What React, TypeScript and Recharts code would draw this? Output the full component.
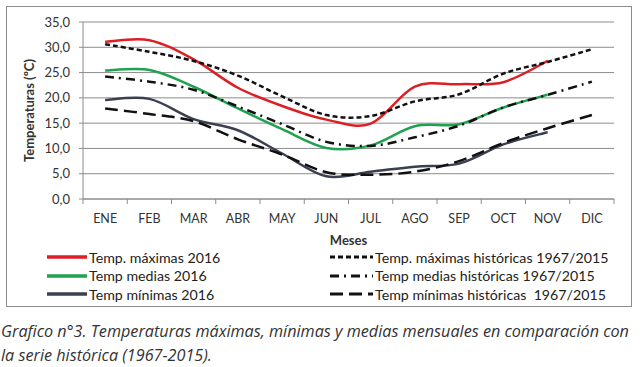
import { LineChart, Line, XAxis, YAxis, CartesianGrid } from 'recharts'

const months = ['ENE', 'FEB', 'MAR', 'ABR', 'MAY', 'JUN', 'JUL', 'AGO', 'SEP', 'OCT', 'NOV', 'DIC']
const max2016 = [31.1, 31.4, 27.6, 22.0, 18.4, 15.7, 14.9, 22.2, 22.7, 23.1, 27.3, null]
const med2016 = [25.4, 25.5, 22.2, 17.9, 13.8, 10.1, 10.6, 14.4, 14.8, 18.1, 20.6, null]
const min2016 = [19.6, 19.8, 15.8, 13.6, 9.0, 4.5, 5.4, 6.4, 7.0, 10.8, 13.2, null]
const maxHist = [30.6, 29.1, 27.3, 24.4, 20.3, 16.6, 16.4, 19.3, 20.7, 24.8, 27.1, 29.6]
const medHist = [24.2, 23.2, 21.6, 18.3, 14.8, 11.3, 10.5, 12.2, 14.5, 18.1, 20.6, 23.2]
const minHist = [17.9, 16.8, 15.4, 11.8, 8.8, 5.3, 4.8, 5.4, 7.5, 11.1, 14.0, 16.6]
const yTicks = [0, 5, 10, 15, 20, 25, 30, 35]

const data = months.map((mes, i) => ({
  mes,
  max2016: max2016[i],
  med2016: med2016[i],
  min2016: min2016[i],
  maxHist: maxHist[i],
  medHist: medHist[i],
  minHist: minHist[i],
}))

const series = [
  { key: 'max2016', name: 'Temp. máximas 2016', color: '#dc1f26', dash: undefined },
  { key: 'med2016', name: 'Temp medias 2016', color: '#1fa24f', dash: undefined },
  { key: 'min2016', name: 'Temp mínimas 2016', color: '#3a3f52', dash: undefined },
  { key: 'maxHist', name: 'Temp. máximas históricas 1967/2015', color: '#111', dash: '5 3' },
  { key: 'medHist', name: 'Temp medias históricas 1967/2015', color: '#111', dash: '9 5 2 5' },
  { key: 'minHist', name: 'Temp mínimas históricas  1967/2015', color: '#111', dash: '13 6' },
]

const GRID = '#8c8c8c'
const FONT = 'Lato, "Open Sans", sans-serif'
const TICK_OFF = 15

// Excel "linea suavizada": catmull-rom uniforme (control = vecino/6)
function excelSmooth(context: any) {
  let pts: number[][] = []
  return {
    areaStart() {},
    areaEnd() {},
    lineStart() { pts = [] },
    point(x: number, y: number) { pts.push([+x, +y]) },
    lineEnd() {
      const n = pts.length
      if (!n) return
      context.moveTo(pts[0][0], pts[0][1])
      for (let i = 0; i < n - 1; i++) {
        const p0 = pts[i - 1] || pts[i]
        const p1 = pts[i]
        const p2 = pts[i + 1]
        const p3 = pts[i + 2] || p2
        context.bezierCurveTo(
          p1[0] + (p2[0] - p0[0]) / 6, p1[1] + (p2[1] - p0[1]) / 6,
          p2[0] - (p3[0] - p1[0]) / 6, p2[1] - (p3[1] - p1[1]) / 6,
          p2[0], p2[1],
        )
      }
    },
  }
}

// etiqueta de mes + marcas entre categorías (como Excel)
function MonthTick({ x, y, payload, index, width, visibleTicksCount }: any) {
  const half = width / visibleTicksCount / 2
  const top = y - TICK_OFF
  return (
    <g>
      {index === 0 && <line x1={x - half} x2={x - half} y1={top} y2={top + 5} stroke={GRID} />}
      <line x1={x + half} x2={x + half} y1={top} y2={top + 5} stroke={GRID} />
      <text x={x} y={y} dy="0.71em" textAnchor="middle" fill="#333" fontSize={12.5}>{payload.value}</text>
    </g>
  )
}

function LegendItem({ s, x, y, w }: { s: typeof series[number]; x: number; y: number; w: number }) {
  return (
    <div style={{ position: 'absolute', left: x, top: y - 9, height: 18, display: 'flex', alignItems: 'center', whiteSpace: 'pre' }}>
      <svg width={w} height={6} style={{ marginRight: 2 }}>
        <line x1={0} y1={3} x2={w} y2={3} stroke={s.color} strokeWidth={s.dash ? 3 : 3.5} strokeDasharray={s.dash} />
      </svg>
      <span style={{ fontSize: 14.2, color: '#222' }}>{s.name}</span>
    </div>
  )
}

export default function App() {
  return (
    <div style={{ position: 'absolute', left: 0, top: 0, width: 640, height: 367, background: '#fff', fontFamily: FONT, overflow: 'hidden' }}>
      <div style={{ position: 'absolute', left: 6, top: 6, width: 624, height: 299, border: `1px solid ${GRID}` }} />
      <div style={{ position: 'absolute', left: 0, top: 0 }}>
        <LineChart width={640} height={250} data={data} margin={{ top: 22, right: 26, bottom: 0, left: 0 }}>
          <CartesianGrid horizontal vertical={false} stroke={GRID} />
          <XAxis
            dataKey="mes" scale="band" interval={0} height={51}
            axisLine={{ stroke: GRID }} tickLine={false} tickSize={TICK_OFF} tickMargin={0}
            tick={<MonthTick />}
            label={({ viewBox }: any) => (
              <text x={viewBox.x + viewBox.width / 2} y={viewBox.y + 46} textAnchor="middle" fontWeight="bold" fontSize={13} fill="#333">Meses</text>
            )}
          />
          <YAxis
            domain={[0, 35]} ticks={yTicks} width={83} interval={0}
            tickFormatter={(v: number) => v.toFixed(1).replace('.', ',')}
            tick={{ fill: '#333', fontSize: 13 }} tickSize={4} tickMargin={9}
            tickLine={{ stroke: GRID }} axisLine={{ stroke: GRID }}
            label={({ viewBox }: any) => {
              const cx = 31
              const cy = viewBox.y + viewBox.height / 2
              return (
                <text x={cx} y={cy} transform={`rotate(-90 ${cx} ${cy})`} textAnchor="middle" dominantBaseline="middle" fontWeight="bold" fontSize={13} fill="#333">
                  Temperaturas (ºC)
                </text>
              )
            }}
          />
          {series.map(s => (
            <Line
              key={s.key} dataKey={s.key} name={s.name}
              type={excelSmooth as any} stroke={s.color} strokeWidth={2.5}
              strokeDasharray={s.dash} dot={false} activeDot={false}
              isAnimationActive={false}
            />
          ))}
        </LineChart>
      </div>
      {series.slice(0, 3).map((s, i) => (
        <LegendItem key={s.key} s={s} x={47} y={257 + i * 18.5} w={40} />
      ))}
      {series.slice(3).map((s, i) => (
        <LegendItem key={s.key} s={s} x={330} y={257 + i * 18.5} w={43} />
      ))}
      <div style={{ position: 'absolute', left: 1, top: 319, fontFamily: '"Open Sans", sans-serif', fontSize: 16.2, fontStyle: 'italic', color: '#333', lineHeight: '24px', whiteSpace: 'nowrap' }}>
        <div>Grafico n°3. Temperaturas máximas, mínimas y medias mensuales en comparación con</div>
        <div>la serie histórica (1967-2015).</div>
      </div>
    </div>
  )
}
